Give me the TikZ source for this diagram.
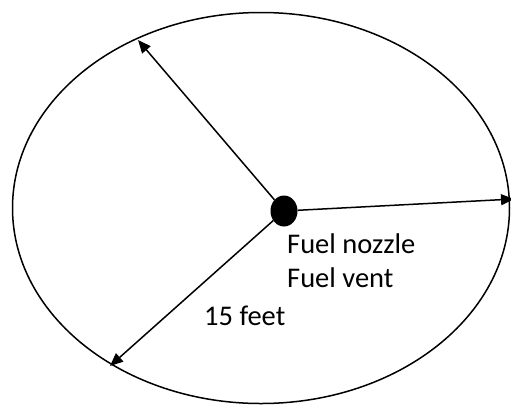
\documentclass[tikz,border=0pt]{standalone}
\usepackage{fontspec}
\setmainfont{Carlito}
\usetikzlibrary{arrows.meta,shapes.geometric}
\begin{document}
\begin{tikzpicture}[x=1pt,y=-1pt,
  edge/.style={line width=1.5pt},
  arr/.style={edge,-{Triangle[length=13pt,width=11pt]}},
  lbl/.style={anchor=base west,inner sep=0pt,font=\fontsize{28.5}{34}\selectfont}]
\useasboundingbox (0,0) rectangle (511,405);
\node[ellipse,draw,line width=1.5pt,minimum width=497pt,minimum height=391pt,inner sep=0pt] (ell) at (261,208) {};
\node[ellipse,fill=black,minimum width=27pt,minimum height=31pt,inner sep=0pt] (dot) at (284,211) {};
\coordinate (t1) at (138,40);
\coordinate (t2) at (514,199);
\coordinate (t3) at (110,366);
\draw[arr] (dot) -- (t1);
\draw[arr] (dot) -- (t2);
\draw[arr] (dot) -- (t3);
\node[lbl] (n1) at (287,253) {Fuel nozzle};
\node[lbl] (n2) at (287,287) {Fuel vent};
\node[lbl] (n3) at (204,325) {15 feet};
\end{tikzpicture}
\end{document}
